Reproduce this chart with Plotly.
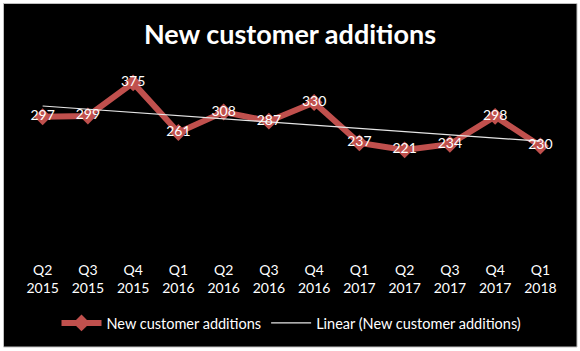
import numpy as np
import plotly.graph_objects as go

quarters = ["Q2<br>2015", "Q3<br>2015", "Q4<br>2015", "Q1<br>2016", "Q2<br>2016", "Q3<br>2016",
            "Q4<br>2016", "Q1<br>2017", "Q2<br>2017", "Q3<br>2017", "Q4<br>2017", "Q1<br>2018"]
additions = [297, 299, 375, 261, 308, 287, 330, 237, 221, 234, 298, 230]

# Linear trendline (least squares, as in the spreadsheet trendline)
idx = np.arange(1, len(additions) + 1)
slope, intercept = np.polyfit(idx, additions, 1)
trend = list(slope * idx + intercept)

FONT = "Lato"
RED = "#C0504D"

W, H = 580, 351
L, R, T, B = 20, 17, 72, 105
pw, ph = W - L - R, H - T - B

def px_x(p):
    return (p - L) / pw

def px_y(p):
    return (H - B - p) / ph

fig = go.Figure()
fig.add_trace(go.Scatter(
    x=quarters, y=additions, mode="lines+markers", name="New customer additions",
    line=dict(color=RED, width=6), marker=dict(symbol="diamond", size=13, color=RED),
))
fig.add_trace(go.Scatter(
    x=quarters, y=trend, mode="lines", name="Linear (New customer additions)",
    line=dict(color="#E6E6E6", width=1.2),
))
fig.add_trace(go.Scatter(
    x=quarters, y=additions, mode="text", text=[str(v) for v in additions],
    textposition="middle center", textfont=dict(color="white", size=14, family=FONT),
    showlegend=False, hoverinfo="skip",
))

fig.add_shape(type="rect", xref="paper", yref="paper",
              x0=px_x(3.5), x1=px_x(577), y0=px_y(347), y1=px_y(3.5),
              fillcolor="black", line=dict(color="#BFBFBF", width=1), layer="below")

fig.update_layout(
    width=W, height=H,
    margin=dict(l=L, r=R, t=T, b=B),
    paper_bgcolor="white", plot_bgcolor="black",
    font=dict(family=FONT, color="white", size=14),
    title=dict(text="<b>New customer additions</b>", x=0.5, xanchor="center",
               y=1 - 35 / H, yanchor="middle", yref="container",
               font=dict(size=27, color="white", family=FONT)),
    showlegend=True,
    legend=dict(orientation="h", x=0.5, xanchor="center", y=px_y(323), yanchor="middle",
                font=dict(size=14.5, color="white", family=FONT), bgcolor="rgba(0,0,0,0)",
                traceorder="normal", itemwidth=40),
    xaxis=dict(showgrid=False, showline=False, zeroline=False, ticks="",
               range=[-0.5, len(quarters) - 0.5],
               tickfont=dict(size=14, color="white", family=FONT), ticklabelstandoff=14),
    yaxis=dict(range=[0, 400], visible=False, showgrid=False, zeroline=False),
)

fig.write_html("out.html")
